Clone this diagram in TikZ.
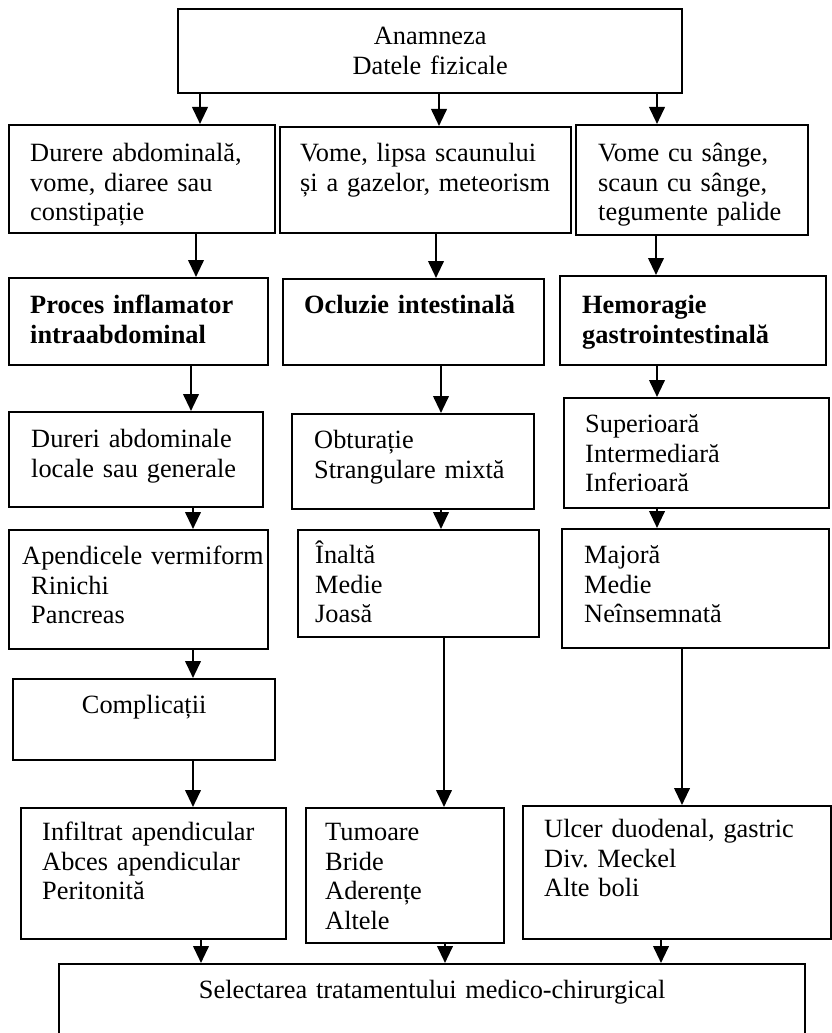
\documentclass[tikz,border=0pt]{standalone}
\usepackage{fontspec}
\setmainfont{Liberation Serif}
\usetikzlibrary{arrows.meta}
\tikzset{
  box/.style={draw, line width=1.4pt, anchor=north west, inner ysep=0pt, inner xsep=0.42cm, align=left, font=\fontsize{15}{17}\selectfont},
  cbox/.style={box, align=center, inner xsep=0.4cm},
  arr/.style={line width=1.4pt, -{Triangle[length=0.34cm,width=0.31cm]}}
}
\begin{document}
\begin{tikzpicture}[x=0.02cm, y=-0.02cm]
\useasboundingbox (0,0) rectangle (831,1033);

\node[cbox, text width=9.28cm, text height=0.70cm, text depth=0.98cm] (top) at (177,8) {Anamneza\\Datele fizicale};

\node[box, text width=4.48cm, text height=0.72cm, text depth=1.44cm] (sym1) at (8,124) {Durere abdominală,\\vome, diaree sau\\constipație};
\node[box, inner xsep=0.40cm, text width=5.02cm, text height=0.68cm, text depth=1.44cm] (sym2) at (279,126) {Vome, lipsa scaunului\\și a gazelor, meteorism};
\node[box, inner xsep=0.44cm, text width=3.76cm, text height=0.72cm, text depth=1.48cm] (sym3) at (575,124) {Vome cu sânge,\\scaun cu sânge,\\tegumente palide};

\node[box, text width=4.34cm, text height=0.70cm, text depth=1.04cm] (proc) at (8,277) {\textbf{Proces inflamator}\\\textbf{intraabdominal}};
\node[box, text width=4.38cm, text height=0.68cm, text depth=1.04cm] (ocl) at (282,278) {\textbf{Ocluzie intestinală}};
\node[box, inner xsep=0.44cm, text width=4.44cm, text height=0.74cm, text depth=1.04cm] (hem) at (559,275) {\textbf{Hemoragie}\\\textbf{gastrointestinală}};

\node[box, inner xsep=0.44cm, text width=4.20cm, text height=0.70cm, text depth=1.20cm] (dur) at (8,411) {Dureri abdominale\\locale sau generale};
\node[box, inner xsep=0.44cm, text width=3.96cm, text height=0.68cm, text depth=1.22cm] (obt) at (291,413) {Obturație\\Strangulare mixtă};
\node[box, text width=4.46cm, text height=0.68cm, text depth=1.52cm] (loc) at (563,397) {Superioară\\Intermediară\\Inferioară};

\node[box, inner xsep=0.26cm, text width=4.66cm, text height=0.68cm, text depth=1.70cm] (org) at (8,529) {\makebox[0pt][l]{Apendicele vermiform}\\\hspace*{0.18cm}Rinichi\\\hspace*{0.18cm}Pancreas};
\node[box, inner xsep=0.34cm, text width=4.14cm, text height=0.66cm, text depth=1.48cm] (niv) at (297,529) {Înaltă\\Medie\\Joasă};
\node[box, inner xsep=0.44cm, text width=4.46cm, text height=0.68cm, text depth=1.70cm] (grav) at (561,528) {Majoră\\Medie\\Neînsemnată};

\node[cbox, text width=4.44cm, text height=0.68cm, text depth=0.94cm] (compl) at (12,678) {Complicații};

\node[box, text width=4.46cm, text height=0.64cm, text depth=1.98cm] (infl) at (20,807) {Infiltrat apendicular\\Abces apendicular\\Peritonită};
\node[box, inner xsep=0.38cm, text width=3.20cm, text height=0.64cm, text depth=2.06cm] (cauze) at (305,807) {Tumoare\\Bride\\Aderențe\\Altele};
\node[box, text width=5.32cm, text height=0.62cm, text depth=2.04cm] (ulcer) at (522,805) {Ulcer duodenal, gastric\\Div.\ Meckel\\Alte boli};

\node[cbox, text width=14.12cm, text height=0.68cm, text depth=0.96cm] (final) at (58,963) {Selectarea tratamentului medico-chirurgical};

\draw[arr] (top.south -| 200,0) -- (sym1.north -| 200,0);
\draw[arr] (top.south -| 439,0) -- (sym2.north -| 439,0);
\draw[arr] (top.south -| 657,0) -- (sym3.north -| 657,0);

\draw[arr] (sym1.south -| 196,0) -- (proc.north -| 196,0);
\draw[arr] (sym2.south -| 436,0) -- (ocl.north -| 436,0);
\draw[arr] (sym3.south -| 656,0) -- (hem.north -| 656,0);

\draw[arr] (proc.south -| 191,0) -- (dur.north -| 191,0);
\draw[arr] (ocl.south -| 441,0) -- (obt.north -| 441,0);
\draw[arr] (hem.south -| 657,0) -- (loc.north -| 657,0);

\draw[arr] (dur.south -| 193,0) -- (org.north -| 193,0);
\draw[arr] (obt.south -| 441,0) -- (niv.north -| 441,0);
\draw[arr] (loc.south -| 657,0) -- (grav.north -| 657,0);

\draw[arr] (org.south -| 193,0) -- (compl.north -| 193,0);
\draw[arr] (compl.south -| 193,0) -- (infl.north -| 193,0);
\draw[arr] (niv.south -| 444,0) -- (cauze.north -| 444,0);% long
\draw[arr] (grav.south -| 682,0) -- (ulcer.north -| 682,0);% long

\draw[arr] (infl.south -| 201,0) -- (final.north -| 201,0);
\draw[arr] (cauze.south -| 445,0) -- (final.north -| 445,0);
\draw[arr] (ulcer.south -| 661,0) -- (final.north -| 661,0);
\end{tikzpicture}
\end{document}
